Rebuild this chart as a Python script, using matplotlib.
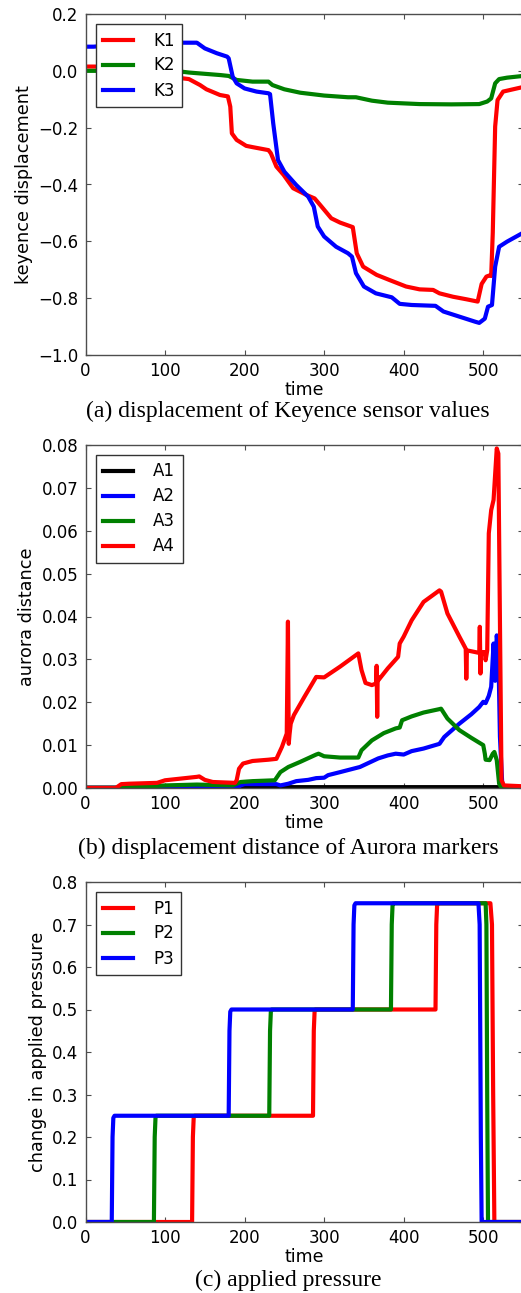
import matplotlib
matplotlib.use("Agg")
import matplotlib.pyplot as plt

# ---------------- data ----------------
# (a) Keyence displacement
k1_t = [0, 12, 60, 100, 121, 130, 144, 152, 169, 179, 182, 184, 190, 202, 211, 230, 233, 240, 249, 261,
        278, 288, 295, 309, 320, 334, 336, 341, 349, 366, 382, 403, 420, 437, 445, 462, 479, 493, 498,
        504, 508, 510, 512, 515, 518, 525, 550]
k1_v = [0.015, 0.015, 0.0, -0.02, -0.026, -0.029, -0.05, -0.065, -0.085, -0.09, -0.126, -0.22, -0.243,
        -0.264, -0.269, -0.279, -0.29, -0.337, -0.366, -0.413, -0.437, -0.449, -0.472, -0.519, -0.534,
        -0.548, -0.55, -0.642, -0.689, -0.718, -0.736, -0.759, -0.769, -0.771, -0.783, -0.795, -0.804,
        -0.812, -0.75, -0.724, -0.72, -0.722, -0.57, -0.196, -0.103, -0.073, -0.057]

k2_t = [0, 12, 60, 121, 130, 170, 180, 190, 210, 230, 235, 250, 270, 300, 330, 340, 360, 380, 420, 460,
        495, 505, 510, 515, 520, 530, 550]
k2_v = [0.0, 0.0, 0.0, -0.003, -0.006, -0.015, -0.018, -0.032, -0.038, -0.038, -0.05, -0.065, -0.077,
        -0.087, -0.093, -0.093, -0.105, -0.112, -0.117, -0.118, -0.117, -0.108, -0.097, -0.044, -0.029,
        -0.024, -0.018]

k3_t = [0, 10, 60, 121, 140, 150, 165, 178, 180, 185, 190, 200, 215, 230, 232, 236, 242, 250, 265, 280,
        287, 292, 300, 315, 330, 335, 340, 350, 365, 385, 395, 410, 440, 450, 470, 490, 495, 502, 506,
        511, 515, 520, 530, 550]
k3_v = [0.085, 0.085, 0.095, 0.099, 0.099, 0.079, 0.062, 0.05, 0.044, -0.02, -0.044, -0.062, -0.073,
        -0.079, -0.082, -0.185, -0.314, -0.355, -0.402, -0.443, -0.478, -0.548, -0.583, -0.619, -0.642,
        -0.654, -0.712, -0.759, -0.783, -0.797, -0.82, -0.824, -0.827, -0.847, -0.865, -0.883, -0.887,
        -0.872, -0.83, -0.824, -0.689, -0.619, -0.601, -0.57]

# (b) Aurora distance
a1_t = [0, 100, 240, 400, 520, 524, 550]
a1_v = [0.0001, 0.0001, 0.0002, 0.0002, 0.0002, 0.0, 0.0]

a2_t = [0, 190, 195, 200, 240, 245, 255, 265, 280, 290, 300, 305, 320, 345, 368, 380, 390, 400, 410,
        425, 445, 451, 470, 485, 495, 500, 503, 507, 510, 513, 515, 517, 519, 521, 524, 530, 550]
a2_v = [0.0, 0.0, 0.0006, 0.0009, 0.0009, 0.0006, 0.001, 0.0016, 0.0019, 0.0023, 0.0024, 0.003, 0.0037,
        0.0049, 0.0069, 0.0076, 0.008, 0.0078, 0.0086, 0.0092, 0.0103, 0.0119, 0.015, 0.0172, 0.0189,
        0.0201, 0.0198, 0.0215, 0.0236, 0.0337, 0.025, 0.0356, 0.032, 0.012, 0.0006, 0.0, 0.0]

a3_t = [0, 40, 100, 140, 185, 195, 210, 238, 245, 255, 270, 290, 293, 300, 320, 343, 347, 360, 375, 390,
        395, 398, 410, 425, 445, 447, 455, 470, 485, 500, 502, 503, 508, 512, 514, 517, 520, 523, 550]
a3_v = [0.0, 0.0, 0.0006, 0.0008, 0.0006, 0.0014, 0.0016, 0.0018, 0.0037, 0.0049, 0.0061, 0.0078, 0.008,
        0.0074, 0.0071, 0.0071, 0.0088, 0.0111, 0.0128, 0.0139, 0.0141, 0.0158, 0.0167, 0.0176, 0.0184,
        0.0185, 0.0162, 0.0135, 0.0117, 0.0100, 0.008, 0.0066, 0.0065, 0.008, 0.0084, 0.0065, 0.001,
        0.0, 0.0]

a4_t = [0, 38, 45, 55, 90, 100, 120, 140, 143, 150, 160, 188, 190, 193, 198, 210, 230, 240, 247, 253,
        254.5, 255.5, 256.5, 258, 262, 275, 290, 300, 320, 343, 347, 352, 360, 365.5, 366, 366.7, 367.3,
        368, 380, 393, 395, 400, 410, 425, 445, 447, 455, 470, 478, 478.7, 479.5, 490, 495, 495.7, 496.5,
        497.3, 498, 502, 503, 505, 507, 510, 513, 517, 519, 521, 523, 526, 550]
a4_v = [0.0, 0.0, 0.0009, 0.001, 0.0012, 0.0018, 0.0022, 0.0026, 0.0027, 0.0019, 0.0014, 0.0012, 0.0018,
        0.0045, 0.0057, 0.0063, 0.0066, 0.0068, 0.0096, 0.0127, 0.0388, 0.0103, 0.0125, 0.015, 0.017,
        0.0212, 0.0259, 0.0258, 0.0283, 0.0314, 0.0275, 0.0245, 0.024, 0.0244, 0.0285, 0.0166, 0.026,
        0.0251, 0.0279, 0.0306, 0.0337, 0.0353, 0.0391, 0.0434, 0.0461, 0.0458, 0.0407, 0.0353, 0.0325,
        0.0255, 0.0321, 0.0317, 0.0315, 0.0376, 0.0267, 0.0317, 0.0317, 0.0317, 0.0298, 0.0321, 0.0594,
        0.0648, 0.0672, 0.0792, 0.078, 0.039, 0.0018, 0.0006, 0.0004]

# (c) applied pressure (step changes)
p1_t = [0, 134, 135, 136, 137, 286, 287, 288, 289, 440, 441, 442, 443, 509, 511, 512.5, 514, 550]
p1_v = [0.0, 0.0, 0.2, 0.245, 0.25, 0.25, 0.45, 0.495, 0.5, 0.5, 0.7, 0.745, 0.75, 0.75, 0.7, 0.3, 0.0, 0.0]
p2_t = [0, 86, 87, 88, 89, 231, 232, 233, 234, 384, 385, 386, 387, 503, 504, 505, 506, 550]
p2_v = [0.0, 0.0, 0.2, 0.245, 0.25, 0.25, 0.45, 0.495, 0.5, 0.5, 0.7, 0.745, 0.75, 0.75, 0.7, 0.3, 0.0, 0.0]
p3_t = [0, 33, 34, 35, 36.5, 180, 181, 182, 183.5, 336, 337, 338, 339.5, 494, 495.5, 497, 498, 550]
p3_v = [0.0, 0.0, 0.2, 0.245, 0.25, 0.25, 0.45, 0.495, 0.5, 0.5, 0.7, 0.745, 0.75, 0.75, 0.7, 0.2, 0.0, 0.0]

captions = ["(a) displacement of Keyence sensor values",
            "(b) displacement distance of Aurora markers",
            "(c) applied pressure"]
ylabels = ["keyence displacement", "aurora distance", "change in applied pressure"]

# ---------------- figure ----------------
W, H = 521, 1293
fig = plt.figure(figsize=(W / 100, H / 100), dpi=100)
fig.patch.set_facecolor("white")


def make_ax(top_px, bottom_px, left_px=85.5, right_px=523):
    return fig.add_axes([left_px / W, 1 - bottom_px / H,
                         (right_px - left_px) / W, (bottom_px - top_px) / H])


def style(ax):
    for s in ax.spines.values():
        s.set_color("0.3")
        s.set_linewidth(1.0)
    ax.tick_params(direction="in", length=3.5, width=0.8, color="0.3",
                   top=True, right=True, labelsize=12, pad=5)
    ax.set_xlim(0, 550)
    ax.set_xticks([0, 100, 200, 300, 400, 500])
    ax.set_xlabel("time", fontsize=12.5, labelpad=1)


def leg(ax):
    lg = ax.legend(loc="upper left", fontsize=12, frameon=True, fancybox=False,
                   framealpha=1, edgecolor="0.2", borderaxespad=0.6,
                   handlelength=1.8, handletextpad=1.2, labelspacing=0.42,
                   borderpad=0.45)
    lg.get_frame().set_linewidth(1.0)


lw = 3.0

ax1 = make_ax(14, 355)
ax1.plot(k1_t, k1_v, color="#ff0000", lw=lw, label="K1")
ax1.plot(k2_t, k2_v, color="#008000", lw=lw, label="K2")
ax1.plot(k3_t, k3_v, color="#0000ff", lw=lw, label="K3")
ax1.set_ylim(-1.0, 0.2)
ax1.set_yticks([-1.0, -0.8, -0.6, -0.4, -0.2, 0.0, 0.2])
ax1.set_yticklabels(["\u22121.0", "\u22120.8", "\u22120.6", "\u22120.4", "\u22120.2", "0.0", "0.2"])
ax1.set_ylabel(ylabels[0], fontsize=12.7)
style(ax1)
leg(ax1)

ax2 = make_ax(445, 788)
ax2.plot(a1_t, a1_v, color="#000000", lw=lw, label="A1")
ax2.plot(a2_t, a2_v, color="#0000ff", lw=lw, label="A2")
ax2.plot(a3_t, a3_v, color="#008000", lw=lw, label="A3")
ax2.plot(a4_t, a4_v, color="#ff0000", lw=lw, label="A4")
ax2.set_ylim(0, 0.08)
ax2.set_yticks([0.0, 0.01, 0.02, 0.03, 0.04, 0.05, 0.06, 0.07, 0.08])
ax2.set_yticklabels(["0.00", "0.01", "0.02", "0.03", "0.04", "0.05", "0.06", "0.07", "0.08"])
ax2.set_ylabel(ylabels[1], fontsize=12.7)
style(ax2)
leg(ax2)

ax3 = make_ax(882, 1222)
ax3.plot(p1_t, p1_v, color="#ff0000", lw=lw, label="P1")
ax3.plot(p2_t, p2_v, color="#008000", lw=lw, label="P2")
ax3.plot(p3_t, p3_v, color="#0000ff", lw=lw, label="P3")
ax3.set_ylim(0, 0.8)
ax3.set_yticks([0.0, 0.1, 0.2, 0.3, 0.4, 0.5, 0.6, 0.7, 0.8])
ax3.set_yticklabels(["0.0", "0.1", "0.2", "0.3", "0.4", "0.5", "0.6", "0.7", "0.8"])
ax3.set_ylabel(ylabels[2], fontsize=12.7)
style(ax3)
leg(ax3)

for cap, yc in zip(captions, [411, 848, 1280]):
    fig.text(288 / W, 1 - yc / H, cap, ha="center", va="center",
             fontsize=17, family="Liberation Serif")

fig.savefig("out.png", dpi=100, facecolor="white")
